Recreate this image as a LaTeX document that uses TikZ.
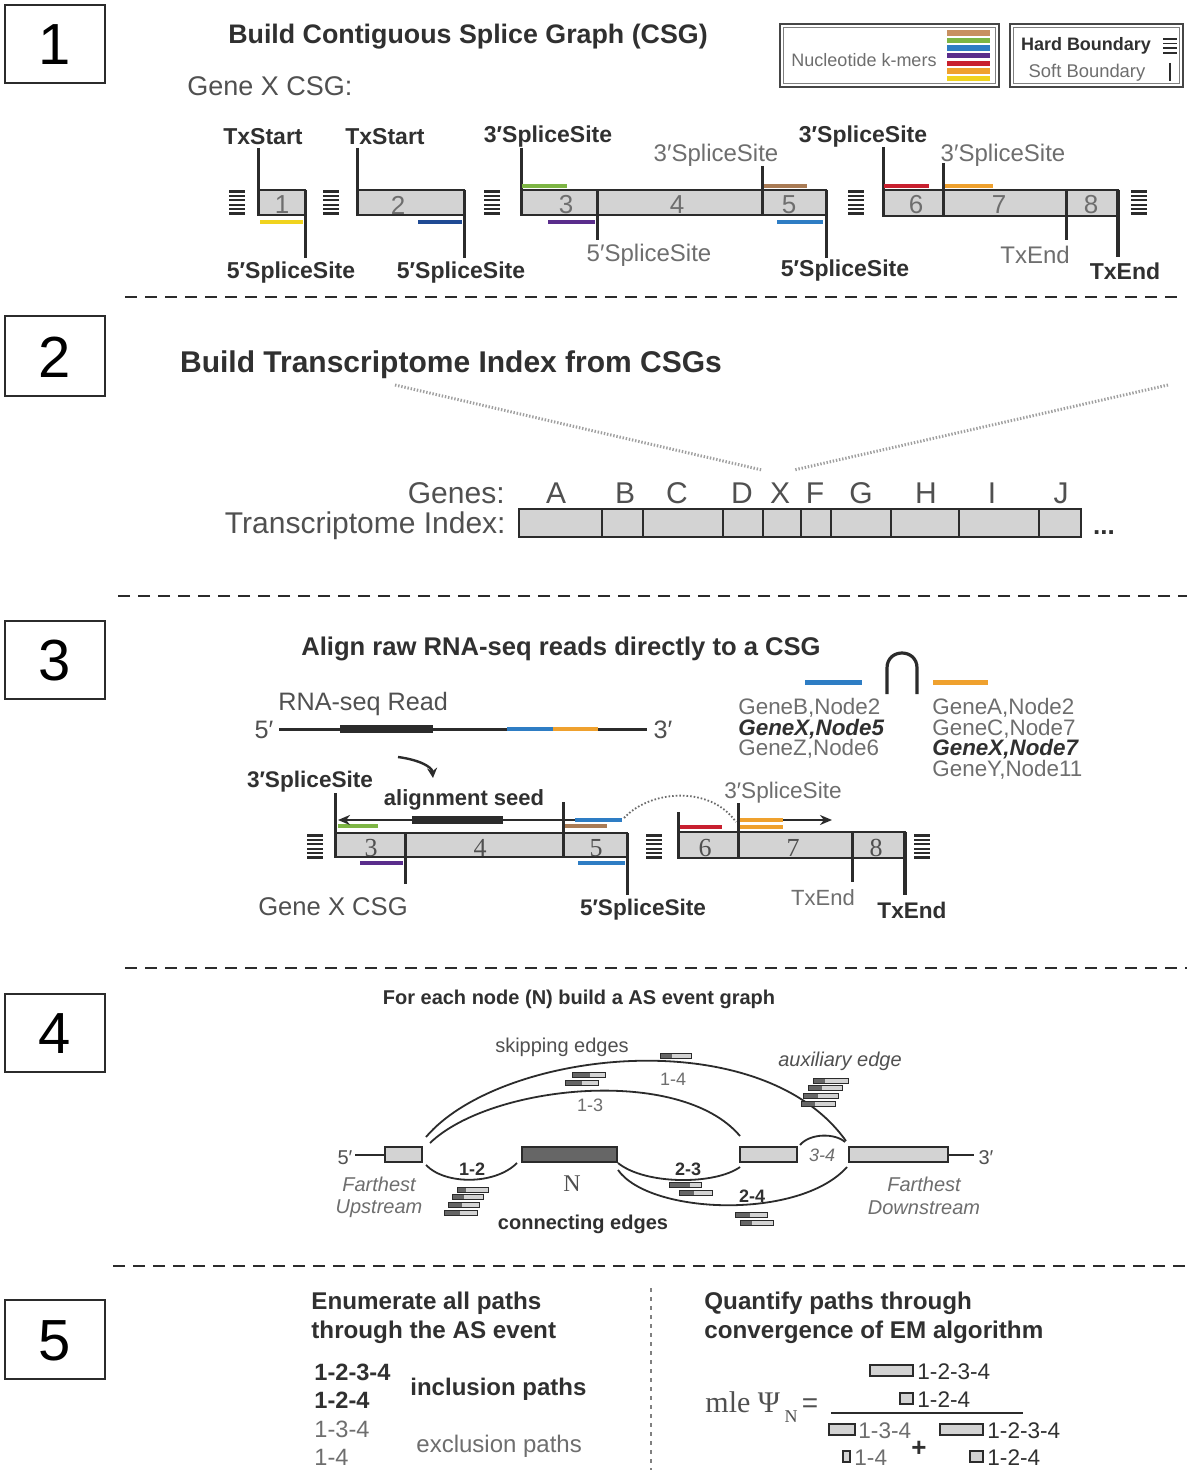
\documentclass[tikz,border=0pt]{standalone}
\usepackage{fontspec}
\setmainfont{Liberation Sans}
\newfontfamily\serifA{Liberation Serif}
\usetikzlibrary{arrows.meta}
\definecolor{dk}{HTML}{2B2B2B}
\definecolor{tg}{HTML}{6E6E6E}
\definecolor{tb}{HTML}{303030}
\definecolor{tm}{HTML}{505050}
\definecolor{exf}{HTML}{D3D3D3}
\definecolor{nfill}{HTML}{666666}
\definecolor{kgreen}{HTML}{7DB544}
\definecolor{kblue}{HTML}{2E7DC4}
\definecolor{knavy}{HTML}{1F4A94}
\definecolor{kpurple}{HTML}{5A2D8C}
\definecolor{kred}{HTML}{C8202F}
\definecolor{korange}{HTML}{EFA12E}
\definecolor{kyellow}{HTML}{F0D31E}
\definecolor{kbrown}{HTML}{A97B55}
\definecolor{ktan}{HTML}{C89060}
\newcommand\fsz[1]{\fontsize{#1pt}{#1pt}\selectfont}
\newcommand\HB[3]{\foreach \hb in {0,...,5}{\draw[dk, line width=1.1pt] ({#1-8},{#2+1.5+\hb*(#3-#2-3)/5}) -- ({#1+8},{#2+1.5+\hb*(#3-#2-3)/5});}}
\newcommand\RD[4]{\fill[exf] (#1,{#3-2.5}) rectangle (#2,{#3+2.5});\fill[nfill] (#1,{#3-2.5}) rectangle (#4,{#3+2.5});\draw[dk, line width=0.4pt] (#1,{#3-2.5}) rectangle (#2,{#3+2.5});}
\begin{document}
\begin{tikzpicture}[x=0.5pt,y=-0.5pt,
  exon/.style={fill=exf, draw=dk, line width=1pt},
  vl/.style={dk, line width=1.5pt},
  kb/.style={line width=2pt},
  sep/.style={dk, line width=1.3pt, dash pattern=on 6pt off 4pt},
  tx/.style={inner sep=0pt, yshift=-1pt},
  lb/.style={tx, font=\fsz{11.5}\bfseries, text=tb},
  lr/.style={tx, font=\fsz{12}, text=tg},
  num/.style={tx, font=\fsz{13}, text=tg},
  snum/.style={tx, font=\serifA\fsz{13}, text=tm},
  pnum/.style={inner sep=0pt, font=\fsz{29}, text=black},
  curve/.style={dk, line width=0.9pt},
  pbox/.style={fill=exf, draw=dk, line width=0.6pt}]
\useasboundingbox (0,0) rectangle (1187,1470);
\fill[white] (0,0) rectangle (1187,1470);

% panel numbers
\foreach \n/\yt/\yb in {1/5/83, 2/316/396, 3/621/699, 4/994/1072, 5/1300/1379}{
  \draw[line width=0.8pt, dk] (5,\yt) rectangle (105,\yb);
  \node[pnum] (pn\n) at (55,{(\yt+\yb)/2+1}) {\n};
}
% separators
\draw[sep] (125,297) -- (1183,297);
\draw[sep] (118,596) -- (1187,596);
\draw[sep] (125,968) -- (1187,968);
\draw[sep] (113,1266) -- (1187,1266);

%% ---------------- Panel 1
\node[tx, font=\fsz{13.4}\bfseries, text=tb] (t1) at (468,35) {Build Contiguous Splice Graph (CSG)};
\node[tx, font=\fsz{13.5}, text=tm, anchor=west] (gx) at (187,84) {Gene X CSG:};
% legend 1
\draw[line width=1.3pt, draw=gray!55!black] (780,24) rectangle (999,87);
\draw[line width=0.4pt, draw=gray] (783.5,27.5) rectangle (995.5,83.5);
\node[tx, font=\fsz{9}, text=tg] (nk) at (864,58) {Nucleotide k-mers};
\foreach \c [count=\i from 0] in {ktan,kgreen,kblue,kpurple,kred,korange,kyellow}
  \draw[\c, line width=2.7pt] (947,{33+\i*7.6}) -- (990,{33+\i*7.6});
% legend 2
\draw[line width=1.3pt, draw=gray!55!black] (1010,24) rectangle (1183,87);
\draw[line width=0.4pt, draw=gray] (1013.5,27.5) rectangle (1179.5,83.5);
\node[tx, font=\fsz{9}\bfseries, text=tb] (hbd) at (1086,44) {Hard Boundary};
\foreach \i in {0,...,3} \draw[dk, line width=0.9pt] (1163,{39+\i*4.6}) -- (1177,{39+\i*4.6});
\node[tx, font=\fsz{9.2}, text=tg] (sbd) at (1087,71) {Soft Boundary};
\draw[dk, line width=1.3pt] (1170,63) -- (1170,81);

% exon 1
\draw[exon] (258,190) rectangle (305,215);
\draw[vl] (258,148) -- (258,215);
\draw[vl] (305,190) -- (305,258);
\draw[kb,kyellow] (260,222) -- (303,222);
\node[num] (e1) at (282,203) {1};
% exon 2
\draw[exon] (357,190) rectangle (464,215);
\draw[vl] (357,148) -- (357,215);
\draw[vl] (464,190) -- (464,258);
\draw[kb,knavy] (418,222) -- (462,222);
\node[num] (e2) at (398,203) {2};
% exons 3-5
\draw[exon] (521,190) rectangle (826,215);
\draw[vl] (521,148) -- (521,215);
\draw[vl] (597,190) -- (597,240);
\draw[vl] (762,166) -- (762,215);
\draw[vl] (826,190) -- (826,258);
\draw[kb,kgreen] (522,186) -- (567,186);
\draw[kb,kpurple] (548,222) -- (595,222);
\draw[kb,kbrown] (764,186) -- (807,186);
\draw[kb,kblue] (777,222) -- (823,222);
\node[num] (e3) at (566,203) {3};
\node[num] (e4) at (677,203) {4};
\node[num] (e5) at (789,203) {5};
% exons 6-8
\draw[exon] (883,190) rectangle (1118,216);
\draw[vl] (883,147) -- (883,216);
\draw[vl] (943,163) -- (943,216);
\draw[vl] (1066,190) -- (1066,240);
\draw[dk, line width=2pt] (1118,190) -- (1118,257);
\draw[kb,kred] (884,186) -- (929,186);
\draw[kb,korange] (945,186) -- (993,186);
\node[num] (e6) at (916,203) {6};
\node[num] (e7) at (999,203) {7};
\node[num] (e8) at (1091,203) {8};
% hard boundaries
\HB{237}{190}{215}
\HB{331}{190}{215}
\HB{492}{190}{215}
\HB{856}{190}{215}
\HB{1139}{190}{215}
% labels
\node[lb] (ts1) at (263,135) {TxStart};
\node[lb] (ts2) at (385,135) {TxStart};
\node[lb] (s3a) at (548,135) {3′SpliceSite};
\node[lr] (s3b) at (716,153) {3′SpliceSite};
\node[lb] (s3c) at (863,135) {3′SpliceSite};
\node[lr] (s3d) at (1003,153) {3′SpliceSite};
\node[lb] (s5a) at (291,271) {5′SpliceSite};
\node[lb] (s5b) at (461,271) {5′SpliceSite};
\node[lr] (s5c) at (649,253) {5′SpliceSite};
\node[lb] (s5d) at (845,269) {5′SpliceSite};
\node[lr] (te1) at (1035,253) {TxEnd};
\node[lb] (te2) at (1125,269) {TxEnd};

%% ---------------- Panel 2
\node[tx, font=\fsz{15}\bfseries, text=tb] (t2) at (451,363) {Build Transcriptome Index from CSGs};
\draw[gray!75, line width=1.5pt, dash pattern=on 0.7pt off 0.9pt] (395,385) -- (762,470);
\draw[gray!75, line width=1.5pt, dash pattern=on 0.7pt off 0.9pt] (1168,385) -- (794,470);
\node[tx, font=\fsz{15}, text=tm, anchor=east] (gl) at (505,491) {Genes:};
\foreach \l/\x in {A/556,B/625,C/677,D/742,X/780,F/815,G/861,H/926,I/992,J/1061}
  \node[tx, font=\fsz{15}, text=tm] (g\l) at (\x,491) {\l};
\node[tx, font=\fsz{15}, text=tm, anchor=east] (til) at (506,524) {Transcriptome Index:};
\draw[exon, line width=1.3pt] (519,509) rectangle (1081,537);
\foreach \x in {602,643,723,763,801,831,891,959,1039}
  \draw[dk, line width=1.3pt] (\x,509) -- (\x,537);
\node[tx, font=\fsz{13}\bfseries, text=tb] (dots) at (1104,531) {...};

%% ---------------- Panel 3
\node[tx, font=\fsz{12.8}\bfseries, text=tb] (t3) at (561,647) {Align raw RNA-seq reads directly to a CSG};
\node[tx, font=\fsz{12.6}, text=tm, anchor=west] (rr) at (278,702) {RNA-seq Read};
\node[tx, font=\fsz{12.6}, text=tm] (r5) at (264,728) {5′};
\node[tx, font=\fsz{12.6}, text=tm] (r3) at (663,728) {3′};
\draw[dk, line width=1.5pt] (279,729) -- (647,729);
\draw[dk, line width=4pt] (340,729) -- (433,729);
\draw[kblue, line width=2pt] (507,729) -- (553,729);
\draw[korange, line width=2pt] (553,729) -- (598,729);
\draw[dk, line width=1.2pt, -{Stealth[length=5pt,width=5pt]}] (398,757) .. controls (420,760) and (432,767) .. (433,778);
% mapping lists
\draw[kblue, line width=2.5pt] (805,682) -- (862,682);
\draw[korange, line width=2.5pt] (933,682) -- (988,682);
\draw[dk, line width=1.6pt] (887,694) -- (887,668) .. controls (887,648) and (917,648) .. (917,668) -- (917,694);
\node[tx, font=\fsz{11.2}, text=tg, anchor=west] (la1) at (738,706) {GeneB,Node2};
\node[tx, font=\fsz{11.2}\bfseries\itshape, text=tb, anchor=west] (la2) at (738,727) {GeneX,Node5};
\node[tx, font=\fsz{11.2}, text=tg, anchor=west] (la3) at (738,747) {GeneZ,Node6};
\node[tx, font=\fsz{11.2}, text=tg, anchor=west] (lb1) at (932,706) {GeneA,Node2};
\node[tx, font=\fsz{11.2}, text=tg, anchor=west] (lb2) at (932,727) {GeneC,Node7};
\node[tx, font=\fsz{11.2}\bfseries\itshape, text=tb, anchor=west] (lb3) at (932,747) {GeneX,Node7};
\node[tx, font=\fsz{11.2}, text=tg, anchor=west] (lb4) at (932,768) {GeneY,Node11};
% CSG exons 3-5
\draw[exon] (335,833) rectangle (627,857);
\draw[vl] (335,793) -- (335,857);
\draw[vl] (405,833) -- (405,884);
\draw[vl] (563,802) -- (563,857);
\draw[vl] (627,833) -- (627,895);
\node[snum] (f3) at (371,846) {3};
\node[snum] (f4) at (480,846) {4};
\node[snum] (f5) at (596,846) {5};
\draw[kb,kgreen] (338,826) -- (378,826);
\draw[kb,kpurple] (360,863) -- (403,863);
\draw[kb,kbrown] (565,826) -- (607,826);
\draw[kb,kblue] (578,863) -- (625,863);
% read on CSG
\draw[dk, line width=1.2pt, -{Stealth[length=6pt,width=5pt]}] (576,820) -- (338,820);
\draw[dk, line width=4pt] (412,820) -- (503,820);
\draw[kblue, line width=2pt] (575,820) -- (622,820);
\draw[dk!70, line width=0.9pt, dash pattern=on 0.8pt off 1pt] (624,818) .. controls (650,790) and (710,785) .. (736,822);
% exons 6-8
\draw[exon] (678,832) rectangle (905,858);
\draw[vl] (678,812) -- (678,858);
\draw[vl] (738,803) -- (738,858);
\draw[vl] (852,832) -- (852,882);
\draw[dk, line width=2pt] (905,832) -- (905,895);
\node[snum] (f6) at (705,846) {6};
\node[snum] (f7) at (793,846) {7};
\node[snum] (f8) at (876,846) {8};
\draw[kb,kred] (680,827) -- (722,827);
\draw[kb,korange] (740,827) -- (783,827);
\draw[korange, line width=2pt] (740,820) -- (783,820);
\draw[dk, line width=1.2pt, -{Stealth[length=6pt,width=5pt]}] (783,820) -- (832,820);
\HB{315}{834}{859}
\HB{654}{834}{859}
\HB{922}{834}{859}
\node[lb, font=\fsz{11.3}\bfseries] (q3a) at (310,780) {3′SpliceSite};
\node[lb, font=\fsz{11}\bfseries] (as) at (464,798) {alignment seed};
\node[tx, font=\fsz{12.8}, text=tm] (gxc) at (333,905) {Gene X CSG};
\node[lb, font=\fsz{11.3}\bfseries] (q5a) at (643,908) {5′SpliceSite};
\node[lr, font=\fsz{11.3}] (q3b) at (783,791) {3′SpliceSite};
\node[lr, font=\fsz{11}] (qe1) at (823,896) {TxEnd};
\node[lb, font=\fsz{11.3}\bfseries] (qe2) at (912,908) {TxEnd};

%% ---------------- Panel 4
\node[tx, font=\fsz{10}\bfseries, text=tb] (t4) at (579,997) {For each node (N) build a AS event graph};
\node[tx, font=\fsz{10}, text=tm] (skp) at (562,1045) {skipping edges};
\node[tx, font=\fsz{10}\itshape, text=tm] (aux) at (840,1059) {auxiliary edge};
\node[tx, font=\fsz{10}\bfseries, text=tb] (con) at (583,1222) {connecting edges};
\node[tx, font=\fsz{10}\itshape, text=tg] (fu1) at (379,1182) {Farthest};
\node[tx, font=\fsz{10}\itshape, text=tg] (fu2) at (379,1207) {Upstream};
\node[tx, font=\fsz{10}\itshape, text=tg] (fd1) at (924,1182) {Farthest};
\node[tx, font=\fsz{10}\itshape, text=tg] (fd2) at (924,1206) {Downstream};
\node[tx, font=\fsz{10}, text=tm] (p5) at (345,1156) {5′};
\node[tx, font=\fsz{10}, text=tm] (p3) at (986,1156) {3′};
\draw[dk, line width=1pt] (355,1155) -- (385,1155);
\draw[dk, line width=1pt] (948,1155) -- (974,1155);
\draw[pbox] (385,1147) rectangle (422,1162);
\draw[fill=nfill, draw=dk, line width=0.6pt] (522,1147) rectangle (617,1162);
\draw[pbox] (740,1147) rectangle (797,1162);
\draw[pbox] (849,1147) rectangle (948,1162);
\node[tx, font=\serifA\fsz{12}, text=tm] (nN) at (572,1182) {N};
% edges
\draw[curve] (426,1137) .. controls (500,1050) and (760,1020) .. (846,1141);
\draw[curve] (430,1143) .. controls (490,1085) and (680,1065) .. (740,1136);
\draw[curve] (426,1165) .. controls (445,1185) and (495,1185) .. (517,1163);
\draw[curve] (618,1163) .. controls (645,1185) and (715,1185) .. (740,1167);
\draw[curve] (618,1170) .. controls (650,1215) and (800,1220) .. (847,1167);
\draw[curve] (800,1145) .. controls (810,1133) and (835,1133) .. (845,1142);
\node[tx, font=\fsz{9}, text=tg] (l14) at (673,1077) {1-4};
\node[tx, font=\fsz{9}, text=tg] (l13) at (590,1103) {1-3};
\node[tx, font=\fsz{9}\bfseries, text=tb] (l12) at (472,1167) {1-2};
\node[tx, font=\fsz{9}\bfseries, text=tb] (l23) at (688,1167) {2-3};
\node[tx, font=\fsz{9}\bfseries, text=tb] (l24) at (752,1194) {2-4};
\node[tx, font=\fsz{9}\itshape, text=tg] (l34) at (822,1153) {3-4};
% reads
\RD{660}{691}{1056}{672}
\RD{572}{605}{1075}{590}
\RD{565}{598}{1083}{582}
\RD{813}{848}{1081}{825}
\RD{808}{842}{1088}{822}
\RD{803}{838}{1096}{818}
\RD{801}{835}{1104}{815}
\RD{457}{488}{1190}{466}
\RD{452}{483}{1197}{464}
\RD{448}{479}{1205}{462}
\RD{444}{477}{1213}{460}
\RD{669}{701}{1185}{690}
\RD{679}{712}{1193}{694}
\RD{735}{767}{1215}{750}
\RD{740}{773}{1223}{752}

%% ---------------- Panel 5
\draw[gray, line width=1pt, dash pattern=on 2pt off 2.5pt] (651,1288) -- (651,1470);
\node[tx, font=\fsz{12.1}\bfseries, text=tb, anchor=west] (en1) at (311,1301) {Enumerate all paths};
\node[tx, font=\fsz{12.1}\bfseries, text=tb, anchor=west] (en2) at (311,1330) {through the AS event};
\node[tx, font=\fsz{11.8}\bfseries, text=tb, anchor=west] (pa) at (314,1370) {1-2-3-4};
\node[tx, font=\fsz{11.8}\bfseries, text=tb, anchor=west] (pb) at (314,1398) {1-2-4};
\node[tx, font=\fsz{12}\bfseries, text=tb, anchor=west] (inc) at (410,1387) {inclusion paths};
\node[tx, font=\fsz{11.8}, text=tg, anchor=west] (pc) at (314,1427) {1-3-4};
\node[tx, font=\fsz{11.8}, text=tg, anchor=west] (pd) at (314,1455) {1-4};
\node[tx, font=\fsz{12}, text=tg, anchor=west] (exc) at (416,1444) {exclusion paths};
\node[tx, font=\fsz{12.1}\bfseries, text=tb, anchor=west] (qu1) at (704,1301) {Quantify paths through};
\node[tx, font=\fsz{12.1}\bfseries, text=tb, anchor=west] (qu2) at (704,1330) {convergence of EM algorithm};
\node[tx, font=\serifA\fsz{15}, text=tm, anchor=west] (mle) at (705,1400) {mle Ψ};
\node[tx, font=\serifA\fsz{9}, text=tm] (mN) at (791,1415) {N};
\node[tx, font=\fsz{14}, text=tm] (eq) at (810,1404) {=};
\draw[dk, line width=1.1pt] (831,1413) -- (1023,1413);
\draw[pbox] (870,1365) rectangle (913,1376);
\node[tx, font=\fsz{11.3}, text=tb, anchor=west] (n1) at (917,1370) {1-2-3-4};
\draw[pbox] (900,1393) rectangle (913,1404);
\node[tx, font=\fsz{11.3}, text=tb, anchor=west] (n2) at (917,1398) {1-2-4};
\draw[pbox] (829,1424) rectangle (855,1435);
\node[tx, font=\fsz{11.3}, text=tg, anchor=west] (d1) at (858,1429) {1-3-4};
\draw[pbox] (940,1424) rectangle (983,1435);
\node[tx, font=\fsz{11.3}, text=tb, anchor=west] (d2) at (987,1429) {1-2-3-4};
\node[tx, font=\fsz{13}\bfseries, text=tb] (plus) at (919,1447) {+};
\draw[pbox] (843,1451) rectangle (850,1462);
\node[tx, font=\fsz{11.3}, text=tg, anchor=west] (d3) at (854,1456) {1-4};
\draw[pbox] (970,1451) rectangle (983,1462);
\node[tx, font=\fsz{11.3}, text=tb, anchor=west] (d4) at (987,1456) {1-2-4};
\end{tikzpicture}
\end{document}
